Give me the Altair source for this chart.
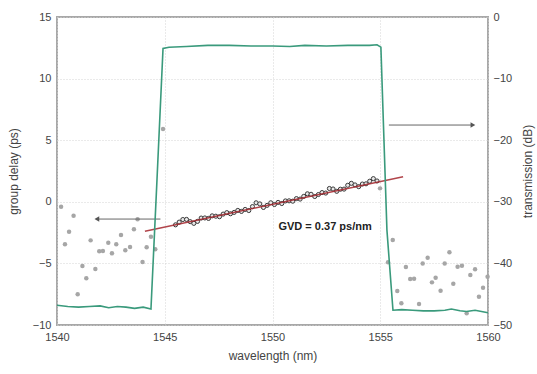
import altair as alt
import pandas as pd

# ---- data ----
# transmission (dB, right axis)
tr_wl = [1540.0, 1540.5, 1541.0, 1541.5, 1542.0, 1542.4, 1542.8, 1543.2, 1543.6, 1544.0,
         1544.36, 1544.64, 1544.92, 1545.2, 1546.0, 1547.0, 1548.0, 1549.0, 1550.0, 1550.8,
         1551.5, 1552.5, 1553.5, 1554.5, 1554.85, 1555.03, 1555.31, 1555.59, 1556.0, 1556.5,
         1557.0, 1557.5, 1558.0, 1558.3, 1558.7, 1559.0, 1559.4, 1559.7, 1560.0]
tr_db = [-46.8, -47.0, -47.1, -47.0, -46.9, -47.2, -47.0, -47.1, -47.3, -47.1,
         -47.4, -26.4, -5.1, -4.9, -4.8, -4.6, -4.6, -4.7, -4.7, -4.8,
         -4.6, -4.7, -4.6, -4.6, -4.5, -4.9, -34.6, -47.6, -47.5, -47.6,
         -47.7, -47.7, -47.6, -47.4, -47.7, -47.8, -47.6, -47.8, -48.0]

# scattered group delay outside the passband (ps)
sc_wl = [1540.19, 1540.77, 1540.56, 1540.37, 1541.56, 1542.97, 1542.38, 1542.75, 1541.96,
         1542.13, 1542.55, 1543.17, 1543.39, 1543.57, 1543.74, 1544.36, 1544.16, 1544.56,
         1543.97, 1541.18, 1541.78, 1541.36, 1540.96, 1544.92, 1554.99,
         1555.58, 1555.36, 1555.79, 1555.98, 1556.19, 1556.39, 1556.57, 1556.80, 1556.97,
         1557.20, 1557.40, 1557.57, 1557.80, 1557.99, 1558.21, 1558.39, 1558.59, 1558.79,
         1559.18, 1559.40, 1559.58, 1559.77, 1559.98, 1559.01]
sc_ps = [-0.40, -1.13, -2.43, -3.45, -3.13, -2.70, -3.32, -3.45, -4.02,
         -3.99, -4.18, -3.94, -3.67, -2.23, -1.42, -2.83, -3.69, -3.86,
         -4.89, -5.21, -5.45, -6.21, -7.51, 5.91, 1.09,
         -3.10, -4.91, -7.24, -8.24, -5.29, -6.27, -6.24, -8.30, -5.00,
         -4.54, -6.54, -6.16, -7.22, -5.00, -4.10, -6.65, -5.27, -5.19,
         -5.94, -5.48, -7.70, -6.97, -6.08, -9.05]

# measured group delay in the passband (ps)
gd_wl = [1545.50, 1545.67, 1545.84, 1546.01, 1546.18, 1546.35, 1546.52, 1546.69, 1546.86, 1547.03,
         1547.20, 1547.37, 1547.54, 1547.71, 1547.88, 1548.05, 1548.22, 1548.39, 1548.56, 1548.73,
         1548.90, 1549.07, 1549.24, 1549.41, 1549.58, 1549.75, 1549.92, 1550.09, 1550.26, 1550.43,
         1550.60, 1550.77, 1550.94, 1551.11, 1551.28, 1551.45, 1551.62, 1551.79, 1551.96, 1552.13,
         1552.30, 1552.47, 1552.64, 1552.81, 1552.98, 1553.15, 1553.32, 1553.49, 1553.66, 1553.83,
         1554.00, 1554.17, 1554.34, 1554.51, 1554.68, 1554.85]
gd_ps = [-1.87, -1.65, -1.44, -1.43, -1.61, -1.75, -1.59, -1.32, -1.31, -1.35,
         -1.14, -1.17, -1.21, -1.00, -0.88, -0.97, -0.86, -0.70, -0.78, -0.62,
         -0.71, -0.39, -0.08, -0.17, -0.46, -0.29, -0.08, -0.22, -0.05, -0.14,
         0.07, 0.08, 0.05, 0.26, 0.22, 0.44, 0.65, 0.61, 0.43, 0.59,
         0.75, 0.71, 1.08, 1.04, 0.85, 1.02, 1.03, 1.34, 1.50, 1.37,
         1.23, 1.44, 1.46, 1.67, 1.88, 1.69]

# linear fit (GVD = 0.37 ps/nm)
fit_wl = [1544.08, 1556.06]
fit_ps = [-2.39, 2.04]

# arrows: [x_start, x_end, y]
arrow_left = [1544.8, 1541.85, -1.4]
arrow_right = [1555.4, 1559.3, 6.23]

label_text = "GVD = 0.37 ps/nm"
label_pos = [1552.44, -2.05]

x_ticks = [1540, 1545, 1550, 1555, 1560]
y_ticks = [-10, -5, 0, 5, 10, 15]
db_ticks = [-50, -40, -30, -20, -10, 0]

FONT = "Liberation Sans"

xs = alt.Scale(domain=[1540, 1560], nice=False, zero=False)
ys = alt.Scale(domain=[-10, 15], nice=False, zero=False)
dbs = alt.Scale(domain=[-50, 0], nice=False, zero=False)

x_axis = alt.Axis(values=x_ticks, format="d", title="wavelength (nm)", grid=True, gridDash=[1, 2],
                  gridColor="#d4d4d4", ticks=False, domain=False, labelFlush=False,
                  labelPadding=6, titlePadding=8, labelFontSize=11, titleFontSize=12,
                  titleFontWeight="normal", labelColor="#444", titleColor="#444",
                  labelFont=FONT, titleFont=FONT)
y_axis = alt.Axis(values=y_ticks, format="d", title="group delay (ps)", grid=True, gridDash=[1, 2],
                  gridColor="#d4d4d4", ticks=False, domain=False, labelFlush=False,
                  labelPadding=6, titlePadding=12, labelFontSize=11, titleFontSize=12,
                  titleFontWeight="normal", labelColor="#444", titleColor="#444",
                  labelFont=FONT, titleFont=FONT, orient="left")
db_axis = alt.Axis(values=db_ticks, format="d", title="transmission (dB)", grid=False,
                   ticks=False, domain=False, labelFlush=False, titleAngle=270,
                   labelPadding=5, titlePadding=23, labelFontSize=11, titleFontSize=12,
                   titleFontWeight="normal", labelColor="#444", titleColor="#444",
                   labelFont=FONT, titleFont=FONT, orient="right")

df_tr = pd.DataFrame({"wl": tr_wl, "db": tr_db, "i": range(len(tr_wl))})
df_sc = pd.DataFrame({"wl": sc_wl, "ps": sc_ps})
df_gd = pd.DataFrame({"wl": gd_wl, "ps": gd_ps})
df_fit = pd.DataFrame({"wl": fit_wl, "ps": fit_ps})
df_arr = pd.DataFrame({"x1": [arrow_left[0], arrow_right[0]],
                       "x2": [arrow_left[1], arrow_right[1]],
                       "y": [arrow_left[2], arrow_right[2]]})
df_head_l = pd.DataFrame({"wl": [arrow_left[1]], "ps": [arrow_left[2]]})
df_head_r = pd.DataFrame({"wl": [arrow_right[1]], "ps": [arrow_right[2]]})
df_lab = pd.DataFrame({"wl": [label_pos[0]], "ps": [label_pos[1]], "t": [label_text]})

scatter = alt.Chart(df_sc).mark_circle(size=20, color="#a6a6a6", opacity=1).encode(
    x=alt.X("wl:Q", scale=xs, axis=x_axis),
    y=alt.Y("ps:Q", scale=ys, axis=y_axis))

gd = alt.Chart(df_gd).mark_point(size=17, filled=False, stroke="#3a3a3a", strokeWidth=1,
                                 fill="#e8e8e8", fillOpacity=1).encode(
    x=alt.X("wl:Q", scale=xs), y=alt.Y("ps:Q", scale=ys))

fit = alt.Chart(df_fit).mark_line(color="#a3252c", strokeWidth=1.5, opacity=0.85).encode(
    x=alt.X("wl:Q", scale=xs), y=alt.Y("ps:Q", scale=ys))

arrows = alt.Chart(df_arr).mark_rule(color="#666", strokeWidth=1).encode(
    x=alt.X("x1:Q", scale=xs), x2="x2:Q", y=alt.Y("y:Q", scale=ys))

head_l = alt.Chart(df_head_l).mark_point(shape="triangle-left", filled=True, color="#555",
                                          size=30, opacity=1).encode(
    x=alt.X("wl:Q", scale=xs), y=alt.Y("ps:Q", scale=ys))
head_r = alt.Chart(df_head_r).mark_point(shape="triangle-right", filled=True, color="#555",
                                          size=30, opacity=1).encode(
    x=alt.X("wl:Q", scale=xs), y=alt.Y("ps:Q", scale=ys))

label = alt.Chart(df_lab).mark_text(font=FONT, fontSize=11, fontWeight="bold", color="#222",
                                    align="center", baseline="middle").encode(
    x=alt.X("wl:Q", scale=xs), y=alt.Y("ps:Q", scale=ys), text="t:N")

left_group = alt.layer(scatter, arrows, head_l, head_r, gd, fit, label)

trans = alt.Chart(df_tr).mark_line(color="#3a9a7c", strokeWidth=1.6).encode(
    x=alt.X("wl:Q", scale=xs),
    y=alt.Y("db:Q", scale=dbs, axis=db_axis),
    order="i:Q")

chart = alt.layer(left_group, trans).resolve_scale(y="independent").properties(
    width=431, height=308,
    autosize=alt.AutoSizeParams(type="none"),
    padding={"left": 57, "top": 17, "right": 49, "bottom": 49},
    background="white",
).configure_view(stroke="#a8a8a8", strokeWidth=2)

chart.save("out.html", embed_options={"renderer": "svg", "actions": False})
